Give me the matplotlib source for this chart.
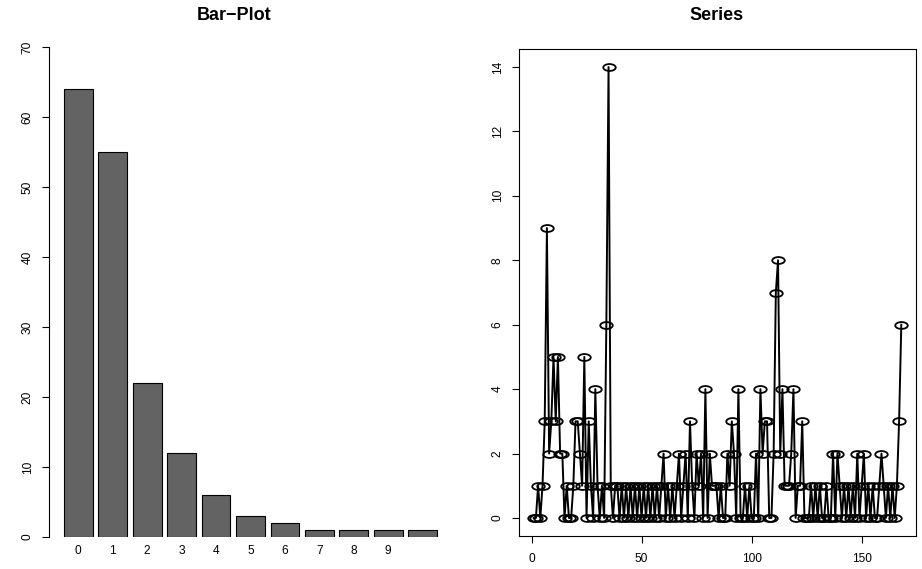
import numpy as np
import matplotlib
matplotlib.use("Agg")
import matplotlib.pyplot as plt
from matplotlib.path import Path

plt.rcParams['font.family'] = ['Liberation Sans', 'DejaVu Sans']

# bar plot: counts of each value in the series
bar_values = [64, 55, 22, 12, 6, 3, 2, 1, 1, 1, 1]
bar_labels = ["0", "1", "2", "3", "4", "5", "6", "7", "8", "9", ""]

# the series itself
series = [0, 0, 1, 0, 1, 3, 9, 2, 3, 5, 3, 5, 2, 2, 0, 1, 0, 0, 1, 3,
          3, 2, 1, 5, 0, 3, 1, 0, 4, 1, 0, 1, 0, 6, 14, 1, 0, 1, 1, 0,
          1, 0, 1, 0, 1, 0, 1, 0, 1, 0, 1, 0, 1, 0, 1, 0, 1, 0, 1, 2,
          0, 1, 0, 1, 0, 1, 2, 0, 1, 2, 0, 3, 1, 0, 2, 1, 2, 0, 4, 0,
          2, 1, 1, 1, 0, 1, 0, 0, 2, 1, 3, 2, 0, 4, 0, 0, 1, 0, 1, 0,
          0, 2, 0, 4, 2, 3, 3, 0, 0, 2, 7, 8, 2, 4, 1, 1, 1, 2, 4, 0,
          1, 1, 3, 0, 0, 0, 1, 0, 1, 0, 1, 0, 0, 1, 0, 0, 2, 0, 2, 1,
          0, 1, 0, 1, 0, 1, 0, 2, 0, 1, 2, 0, 1, 0, 1, 0, 0, 1, 2, 1,
          0, 1, 0, 1, 0, 1, 3, 6]

W, H = 922, 569
fig = plt.figure(figsize=(W / 100, H / 100), dpi=100)

def px_box(l, t, r, b):
    return [l / W, 1 - b / H, (r - l) / W, (b - t) / H]

# ---- left: bar plot ----
ax1 = fig.add_axes(px_box(49, 47, 452, 537))
xpos = 0.7 + 1.2 * np.arange(len(bar_values))
ax1.bar(xpos, bar_values, width=1, color="#636363", edgecolor="black", linewidth=0.8)
ax1.set_xlim(-0.32, 13.72)
ax1.set_ylim(0, 70)
ax1.set_yticks(range(0, 71, 10))
ax1.set_xticks(xpos)
ax1.set_xticklabels(bar_labels)
for s in ["top", "right", "bottom"]:
    ax1.spines[s].set_visible(False)
ax1.spines["left"].set_bounds(0, 70)
ax1.tick_params(axis="y", length=5, width=0.8, pad=6, labelsize=8.6, labelrotation=90)
ax1.tick_params(axis="x", length=0, pad=6, labelsize=8.6)
for lab in ax1.get_yticklabels():
    lab.set_verticalalignment("center")

# ---- right: series ----
ax2 = fig.add_axes(px_box(519, 49, 916, 536))
t = np.arange(1, len(series) + 1)
ell = Path.unit_circle()
ell = Path(ell.vertices * [1.0, 0.55], ell.codes)
ax2.plot(t, series, color="black", lw=1.4, marker=ell, markersize=9,
         markerfacecolor="none", markeredgecolor="black", markeredgewidth=1.3)
ax2.set_xlim(-5.68, 174.68)
ax2.set_ylim(-0.56, 14.56)
ax2.set_xticks([0, 50, 100, 150])
ax2.set_yticks(range(0, 15, 2))
for s in ax2.spines.values():
    s.set_linewidth(0.8)
ax2.tick_params(axis="both", length=5, width=0.8, labelsize=8.6)
ax2.tick_params(axis="x", pad=7)
ax2.tick_params(axis="y", pad=6, labelrotation=90)
for lab in ax2.get_yticklabels():
    lab.set_verticalalignment("center")

fig.text(234 / W, 1 - 15 / H, "Bar\u2212Plot", ha="center", va="center",
         fontsize=13, fontweight="bold")
fig.text(717 / W, 1 - 15 / H, "Series", ha="center", va="center",
         fontsize=13, fontweight="bold")

fig.savefig("out.png", dpi=100)
